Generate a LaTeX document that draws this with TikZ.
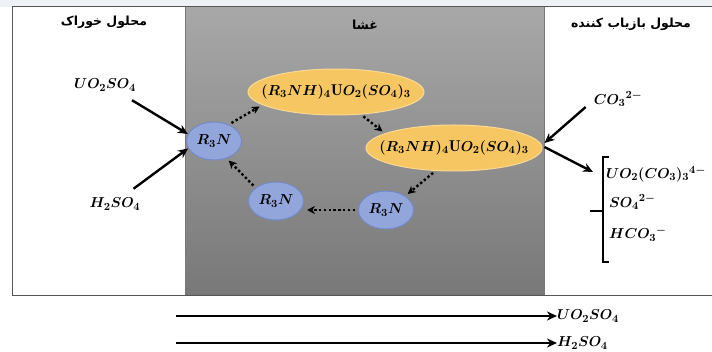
\documentclass[tikz,border=0pt]{standalone}
\usepackage{fontspec}
\usepackage{amsmath}
\usetikzlibrary{shapes.geometric,arrows.meta}
\TeXXeTstate=1
\newfontfamily\farsifont[Script=Arabic]{DejaVu Sans}

\definecolor{frameLine}{HTML}{555555}
\definecolor{memTop}{HTML}{A8A8A8}
\definecolor{memBottom}{HTML}{787878}
\definecolor{amineFill}{HTML}{93A6DC}
\definecolor{amineEdge}{HTML}{7489C8}
\definecolor{cplxFill}{HTML}{F6C663}
\definecolor{cplxEdge}{HTML}{F9D993}
\definecolor{topStrip}{HTML}{EEF2F7}

\tikzset{
  chem/.style={font=\fontsize{15.3}{17}\selectfont\boldmath, inner sep=0pt},
  hdr/.style={font=\fontsize{12.5}{14}\selectfont\farsifont\bfseries, inner sep=0pt},
  amine/.style={ellipse, draw=amineEdge, fill=amineFill, line width=1pt,
    minimum width=55pt, minimum height=38pt, inner sep=0pt,
    font=\fontsize{15}{17}\selectfont\boldmath},
  complex/.style={ellipse, draw=cplxEdge, fill=cplxFill, line width=1pt,
    minimum width=176pt, minimum height=46pt, inner sep=0pt,
    font=\fontsize{15.6}{17}\selectfont\boldmath},
  flow/.style={-{Stealth[length=10pt,width=9pt]}, line width=2.4pt},
  longflow/.style={-{Stealth[length=10pt,width=9pt]}, line width=2pt},
  loop/.style={-{Stealth[length=8pt,width=8pt]}, line width=2.4pt,
    dash pattern=on 2.4pt off 2.4pt, shorten <=3pt, shorten >=3pt},
  brace/.style={line width=1.4pt, black},
}

\begin{document}
\begin{tikzpicture}[x=1pt,y=-1pt]
  \useasboundingbox (0,0) rectangle (712,352);
  \fill[white] (0,0) rectangle (712,352);
  \fill[topStrip] (0,0) rectangle (712,7);

  % membrane band with vertical shading
  \shade[top color=memTop, bottom color=memBottom] (185,7) rectangle (544,296);
  \draw[frameLine!80, line width=1pt] (185,7) -- (185,296) (544,7) -- (544,296);

  % outer frame
  \draw[frameLine, line width=1pt] (712,7) -- (12,7) -- (12,296) -- (712,296);

  % section headings
  \node[hdr] (feedHdr)  at (104,22) {\beginR محلول خوراک\endR};
  \node[hdr] (memHdr)   at (365,25) {\beginR غشا\endR};
  \node[hdr] (stripHdr) at (631,24) {\beginR محلول بازیاب کننده\endR};

  % carrier cycle in the membrane
  \node[amine]   (amineL)   at (214,141) {$R_3N$};
  \node[complex] (complexT) at (336,92)  {\makebox[0pt]{$(R_3NH)_4\mathrm{U}O_2(SO_4)_3$}};
  \node[complex] (complexR) at (454,148) {\makebox[0pt]{$(R_3NH)_4\mathrm{U}O_2(SO_4)_3$}};
  \node[amine]   (amineBR)  at (386,210) {$R_3N$};
  \node[amine]   (amineBL)  at (276,201) {$R_3N$};

  \draw[loop] (amineL.48)   -- (complexT.190);
  \draw[loop] (complexT.318) -- (complexR.168);
  \draw[loop] (complexR.231) -- (amineBR.36);
  \draw[loop] (amineBR.west) -- (amineBR.west -| amineBL.east);
  \draw[loop] (amineBL.147) -- (amineL.306);

  % feed side species
  \node[chem] (uoFeed) at (105,85)  {$UO_2SO_4$};
  \node[chem] (hFeed)  at (115,204) {$H_2SO_4$};
  \draw[flow] ([shift={(-4,9)}]uoFeed.south east) -- (amineL.165);
  \draw[flow] ([shift={(-7,-9)}]hFeed.north east) -- (amineL.196);

  % stripping side species
  \node[chem] (coIn) at (618,99) {$CO_3{}^{2-}$};
  \draw[flow] ([shift={(-8,8)}]coIn.west) -- ([shift={(2,-5)}]complexR.east);

  \coordinate (brTop) at (603,157);
  \coordinate (brBot) at (603,262);
  \coordinate (brMid) at (603,211);
  \draw[brace] ([xshift=6pt]brTop) -- (brTop) -- (brBot) -- ([xshift=6pt]brBot);
  \draw[brace] (brMid) -- ([xshift=-13pt]brMid);
  \draw[flow] ([shift={(2,-1)}]complexR.east) -- ([shift={(-10,15)}]brTop);

  \node[chem, anchor=west] (uoOutR) at (606,174) {$UO_2(CO_3)_3{}^{4-}$};
  \node[chem, anchor=west] (soOutR) at (609,202) {$SO_4{}^{2-}$};
  \node[chem, anchor=west] (hcOutR) at (609,234) {$HCO_3{}^{-}$};

  % overall transport below the cell
  \coordinate (uoStart) at (176,316);
  \coordinate (hStart)  at (176,343);
  \node[chem, anchor=west] (uoOut) at (557,316) {$UO_2SO_4$};
  \node[chem, anchor=west] (hOut)  at (557,343) {$H_2SO_4$};
  \draw[longflow] (uoStart) -- (uoOut.west);
  \draw[longflow] (hStart) -- (hOut.west);
\end{tikzpicture}
\end{document}
